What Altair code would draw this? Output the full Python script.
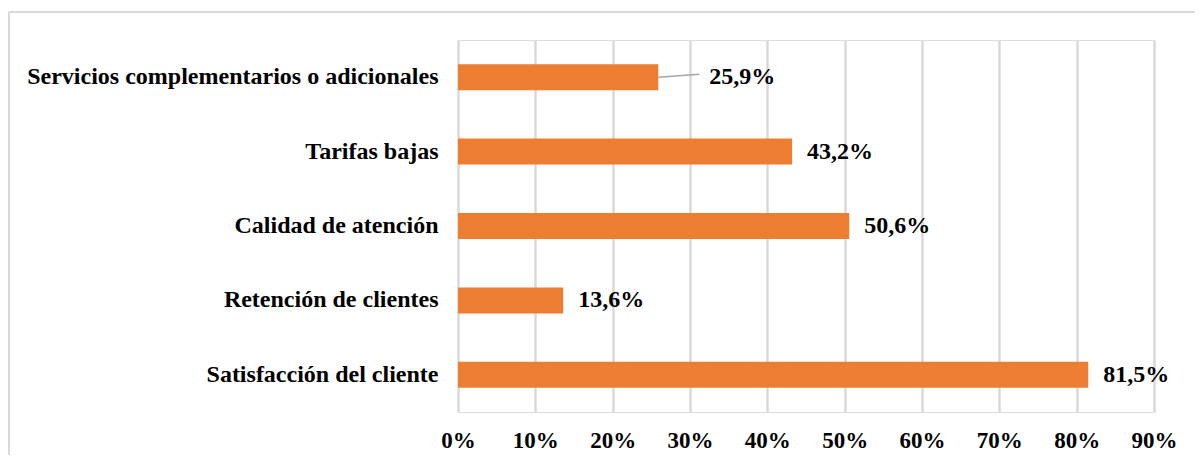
import altair as alt
import pandas as pd

categories = [
    "Servicios complementarios o adicionales",
    "Tarifas bajas",
    "Calidad de atención\u00a0",
    "Retención de clientes",
    "Satisfacción del cliente",
]
values = [0.259, 0.432, 0.506, 0.136, 0.815]
tick_values = [0, 0.1, 0.2, 0.3, 0.4, 0.5, 0.6, 0.7, 0.8, 0.9]
leader = [True, False, False, False, False]

df = pd.DataFrame({"cat": categories, "v": values, "leader": leader})

FONT = "Liberation Serif"
ORANGE = "#ED7D31"
GRID = "#D9D9D9"

x = alt.X("v:Q", scale=alt.Scale(domain=[0, 0.9], nice=False),
          axis=alt.Axis(values=tick_values, format=".0%", title=None, domain=False,
                        ticks=False, grid=True, gridColor=GRID, gridWidth=2.5,
                        labelFont=FONT, labelFontSize=23, labelFontWeight="bold",
                        labelColor="#000000", labelPadding=17, labelFlush=False))
y = alt.Y("cat:N", sort=categories,
          scale=alt.Scale(paddingInner=0.5, paddingOuter=0.25),
          axis=alt.Axis(title=None, domain=False, ticks=False, grid=False,
                        labelFont=FONT, labelFontSize=24, labelFontWeight="bold",
                        labelColor="#000000", labelPadding=20, labelLimit=600))

base = alt.Chart(df)

bars = base.mark_bar(color=ORANGE, size=26).encode(x=x, y=y)

labels_norm = base.transform_filter("!datum.leader").transform_calculate(
    lab="replace(format(datum.v, '.1%'), '.', ',')"
).mark_text(align="left", baseline="middle", dx=15, font=FONT, fontSize=24,
            fontWeight="bold", color="#000000").encode(
    x="v:Q", y=alt.Y("cat:N", sort=categories), text="lab:N")

labels_lead = base.transform_filter("datum.leader").transform_calculate(
    lab="replace(format(datum.v, '.1%'), '.', ',')"
).mark_text(align="left", baseline="middle", dx=51, font=FONT, fontSize=24,
            fontWeight="bold", color="#000000").encode(
    x="v:Q", y=alt.Y("cat:N", sort=categories), text="lab:N")

leader_line = base.transform_filter("datum.leader").transform_calculate(
    v2="datum.v + 0.053"
).mark_rule(color="#A6A6A6", strokeWidth=1.5, y2Offset=-3).encode(
    x="v:Q", x2="v2:Q", y=alt.Y("cat:N", sort=categories), y2=alt.Y2("cat:N"))

frame_top = alt.Chart(df).mark_rule(color="#D9D9D9", strokeWidth=1.5).encode(
    x=alt.value(-449), x2=alt.value(760), y=alt.value(-28))
frame_left = alt.Chart(df).mark_rule(color="#D9D9D9", strokeWidth=1.5).encode(
    x=alt.value(-449), y=alt.value(-28), y2=alt.value(440))

chart = alt.layer(frame_top, frame_left, bars, leader_line, labels_norm, labels_lead).properties(
    width=696, height=372,
    autosize=alt.AutoSizeParams(type="none"),
    padding={"left": 450, "top": 32, "right": 41, "bottom": 43},
).configure_view(stroke=None).configure(background="white")

chart.save("out.html", embed_options={"renderer": "svg", "actions": False})
